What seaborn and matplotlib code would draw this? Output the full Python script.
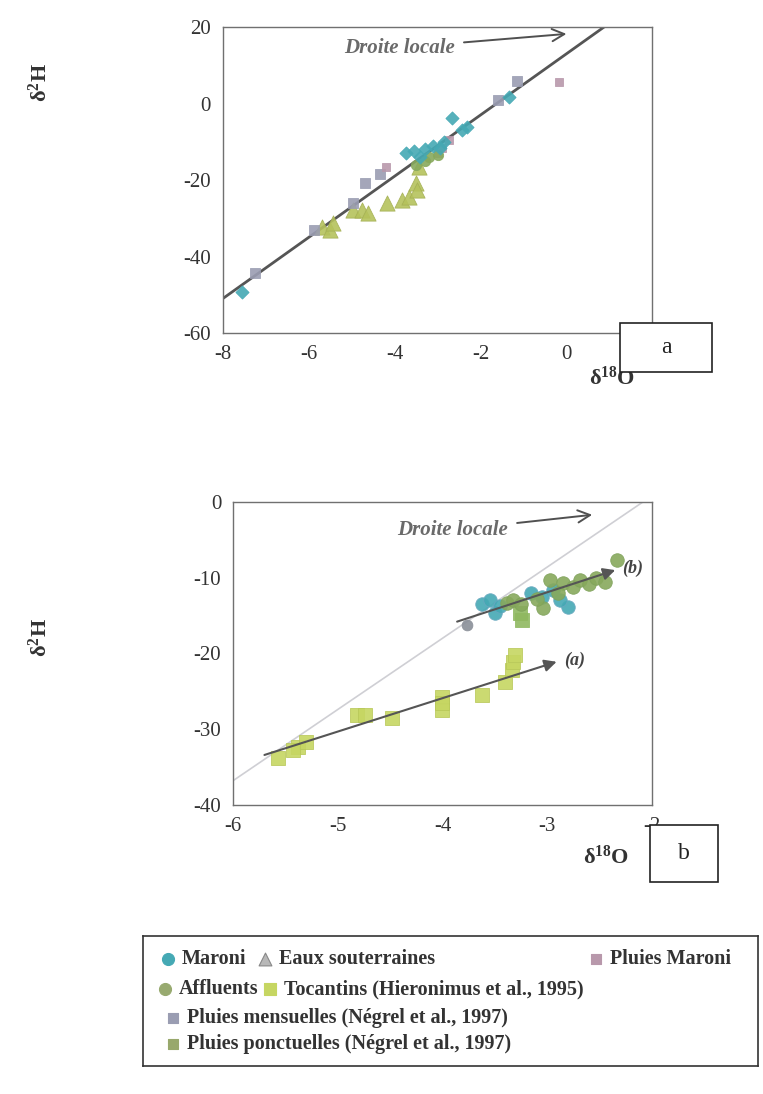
import numpy as np
import pandas as pd
import matplotlib
matplotlib.use("Agg")
import matplotlib.pyplot as plt
from matplotlib.patches import Rectangle
import seaborn as sns

# ---------------- data ----------------
# Panel a : d18O / d2H
a_maroni_x = [-7.56, -2.66, -2.43, -2.32, -1.34, -3.73, -3.55, -3.30, -3.10, -2.95, -3.40, -2.85]
a_maroni_y = [-49.4, -3.9, -7.0, -6.2, 1.6, -13.0, -12.5, -12.0, -11.0, -11.5, -14.0, -10.0]
a_affl_x = [-3.50, -3.30, -3.00, -3.20]
a_affl_y = [-16.0, -15.0, -13.5, -14.0]
a_mens_x = [-7.26, -5.87, -4.70, -4.98, -1.60, -1.16, -4.35]
a_mens_y = [-44.2, -33.0, -20.8, -26.0, 0.8, 6.0, -18.5]
a_plmar_x = [-0.18, -4.20, -2.73, -2.90, -3.00]
a_plmar_y = [5.5, -16.6, -9.6, -11.5, -13.0]
a_sout_x = [-5.68, -5.50, -5.44, -4.98, -4.77, -4.63, -4.17, -3.82, -3.66, -3.50, -3.48, -3.43]
a_sout_y = [-32.2, -33.0, -31.2, -27.8, -27.8, -28.6, -26.0, -25.2, -24.4, -20.8, -22.6, -16.6]

# Panel b
b_maroni_x = [-3.62, -3.50, -3.55, -3.15, -2.94, -2.80, -2.88, -3.05, -3.45]
b_maroni_y = [-13.5, -14.6, -13.0, -12.0, -11.6, -13.9, -13.0, -12.5, -13.8]
b_affl_x = [-3.38, -3.33, -3.25, -3.04, -2.97, -2.85, -2.75, -2.69, -2.60, -2.53, -2.45, -2.33, -3.10, -2.90]
b_affl_y = [-13.3, -12.9, -13.5, -14.0, -10.3, -10.7, -11.2, -10.3, -10.8, -10.0, -10.6, -7.7, -12.8, -12.0]
b_toc_x = [-5.57, -5.38, -5.30, -5.43, -4.82, -4.74, -4.48, -4.00, -4.00, -4.00, -3.62, -3.40, -3.34, -3.33, -3.31]
b_toc_y = [-33.8, -32.3, -31.7, -32.7, -28.1, -28.1, -28.5, -25.7, -27.4, -26.6, -25.5, -23.8, -22.2, -21.1, -20.2]
b_ponct_x = [-3.24, -3.26]
b_ponct_y = [-15.6, -14.7]
b_mens_x = [-3.77]
b_mens_y = [-16.2]

# local meteoric lines (slope, intercept, x range)
lml_a = (8.0, 13.0, -8.0, 0.88)
lml_b = (9.4, 19.6, -6.0, -2.0)
# evolution trends: start and end points
trend_a = [(-5.70, -33.4), (-2.91, -21.1)]
trend_b = [(-3.86, -15.8), (-2.35, -9.0)]

# legend entries
legend_labels = ["Maroni", "Eaux souterraines", "Pluies Maroni",
                 "Affluents", "Tocantins (Hieronimus et al., 1995)",
                 "Pluies mensuelles (Négrel et al., 1997)",
                 "Pluies ponctuelles (Négrel et al., 1997)"]

# ---------------- style ----------------
sns.set_theme(style="white")
plt.rcParams["font.family"] = ["Liberation Serif", "DejaVu Serif"]
plt.rcParams["font.weight"] = "bold"
plt.rcParams["axes.unicode_minus"] = False
plt.rcParams["mathtext.fontset"] = "custom"
plt.rcParams["mathtext.rm"] = "Liberation Serif:bold"
plt.rcParams["mathtext.bf"] = "Liberation Serif:bold"
plt.rcParams["mathtext.default"] = "bf"

C_MARONI = "#45a9b4"
C_AFFL = "#87a95c"
C_TOC = "#c6d662"
C_SOUT = "#b5c25c"
C_PLMAR = "#b898ab"
C_MENS = "#9a9db2"
C_PONCT = "#98a86c"

fig = plt.figure(figsize=(7.63, 10.94), dpi=100)
ax_a = fig.add_axes([0.292, 0.6956, 0.563, 0.2797])
ax_b = fig.add_axes([0.3054, 0.2642, 0.549, 0.2770])


def style_axes(ax):
    for sp in ax.spines.values():
        sp.set_color("#707070")
        sp.set_linewidth(1.0)
    ax.tick_params(direction="inout", length=9, width=1.0, color="#707070",
                   labelsize=15, labelcolor="#333333", pad=4)
    for lab in ax.get_xticklabels() + ax.get_yticklabels():
        lab.set_fontweight("normal")
    ax.set_xlabel("")
    ax.set_ylabel("")


def scatter(ax, xs, ys, color, marker, size, edge=None):
    sns.scatterplot(x=xs, y=ys, ax=ax, color=color, marker=marker, s=size,
                    edgecolor=edge if edge else color, linewidth=0.6,
                    alpha=0.9, zorder=3, legend=False)


# ---------------- panel a ----------------
m, c, x0, x1 = lml_a
xx = np.array([x0, x1])
ax_a.plot(xx, m * xx + c, color="#555555", lw=2.0, zorder=2)
scatter(ax_a, a_sout_x, a_sout_y, C_SOUT, "^", 120, "#a5b055")
scatter(ax_a, a_mens_x, a_mens_y, C_MENS, "s", 45)
scatter(ax_a, a_plmar_x, a_plmar_y, C_PLMAR, "s", 40)
scatter(ax_a, a_affl_x, a_affl_y, C_AFFL, "o", 55)
scatter(ax_a, a_maroni_x, a_maroni_y, C_MARONI, "D", 45)
ax_a.set_xlim(-8, 2)
ax_a.set_ylim(-60, 20)
ax_a.set_xticks([-8, -6, -4, -2, 0, 2])
ax_a.set_yticks([-60, -40, -20, 0, 20])
style_axes(ax_a)
ax_a.annotate("Droite locale", xy=(0.0, 18.2), xytext=(-3.88, 14.6),
              ha="center", va="center", fontsize=15, fontstyle="italic",
              fontweight="bold", color="#6a6a6a",
              arrowprops=dict(arrowstyle="->", color="#505050", lw=1.4,
                              shrinkA=4, shrinkB=0, mutation_scale=22))

# ---------------- panel b ----------------
m, c, x0, x1 = lml_b
xx = np.array([x0, x1])
ax_b.plot(xx, m * xx + c, color="#cfcfd4", lw=1.2, zorder=2)
scatter(ax_b, b_toc_x, b_toc_y, C_TOC, "s", 110, "#b8c858")
scatter(ax_b, b_ponct_x, b_ponct_y, "#8fb860", "s", 90)
scatter(ax_b, b_mens_x, b_mens_y, "#8a8f98", "o", 60)
scatter(ax_b, b_maroni_x, b_maroni_y, C_MARONI, "o", 95, "#6aa8c0")
scatter(ax_b, b_affl_x, b_affl_y, C_AFFL, "o", 95, "#7fa25a")
for (p0, p1), lab in [(trend_a, "(a)"), (trend_b, "(b)")]:
    ax_b.annotate("", xy=p1, xytext=p0,
                  arrowprops=dict(arrowstyle="-|>", color="#555555", lw=1.5,
                                  shrinkA=0, shrinkB=0, mutation_scale=18),
                  zorder=4)
    ax_b.text(p1[0] + 0.07, p1[1] + 0.2, lab, fontsize=13, fontstyle="italic",
              fontweight="bold", color="#444444", ha="left", va="center")
ax_b.set_xlim(-6, -2)
ax_b.set_ylim(-40, 0)
ax_b.set_xticks([-6, -5, -4, -3, -2])
ax_b.set_yticks([-40, -30, -20, -10, 0])
style_axes(ax_b)
ax_b.annotate("Droite locale", xy=(-2.57, -1.7), xytext=(-3.9, -3.7),
              ha="center", va="center", fontsize=15, fontstyle="italic",
              fontweight="bold", color="#6a6a6a",
              arrowprops=dict(arrowstyle="->", color="#505050", lw=1.4,
                              shrinkA=4, shrinkB=0, mutation_scale=22))

# ---------------- axis titles and panel tags ----------------
W, H = 763.0, 1094.0


def fx(px):
    return px / W


def fy(py):
    return 1 - py / H


for ypix in (83, 638):
    fig.text(fx(40), fy(ypix), r"δ$^{2}$H", rotation=90, ha="center",
             va="center", fontsize=16, fontweight="bold", color="#333333")
fig.text(fx(612), fy(378), r"δ$^{18}$O", ha="center", va="center",
         fontsize=16, fontweight="bold", color="#333333")
fig.text(fx(606), fy(857), r"δ$^{18}$O", ha="center", va="center",
         fontsize=16, fontweight="bold", color="#333333")

for (l, t, r, b, tag) in [(620, 323, 712, 372, "a"), (650, 825, 718, 882, "b")]:
    fig.add_artist(Rectangle((fx(l), fy(b)), fx(r) - fx(l), fy(t) - fy(b),
                             transform=fig.transFigure, facecolor="white",
                             edgecolor="#222222", lw=1.2, zorder=10))
    fig.text(fx((l + r) / 2), fy((t + b) / 2), tag, ha="center", va="center",
             fontsize=17, fontweight="normal", color="#222222", zorder=11)

# ---------------- legend ----------------
leg = fig.add_axes([fx(143), fy(1066), fx(758) - fx(143), fy(936) - fy(1066)])
leg.set_xlim(143, 758)
leg.set_ylim(1066, 936)
leg.set_xticks([])
leg.set_yticks([])
for sp in leg.spines.values():
    sp.set_color("#333333")
    sp.set_linewidth(1.2)

leg_markers = [("o", C_MARONI, 75), ("^", "#b8b8b8", 85), ("s", C_PLMAR, 45),
               ("o", "#98aa70", 75), ("s", C_TOC, 85),
               ("s", C_MENS, 45), ("s", C_PONCT, 45)]
leg_pos = [(168, 959), (265, 959), (596, 959),
           (165, 989), (270, 989),
           (173, 1018), (173, 1044)]
for (mk, col, sz), (px, py), lab in zip(leg_markers, leg_pos, legend_labels):
    leg.scatter([px], [py], marker=mk, s=sz, color=col,
                edgecolor="#888888" if mk == "^" else col, linewidth=0.8)
    leg.text(px + 14, py, lab, ha="left", va="center", fontsize=14.5,
             fontweight="bold", color="#333333")

fig.savefig("out.png", dpi=100, facecolor="white")
